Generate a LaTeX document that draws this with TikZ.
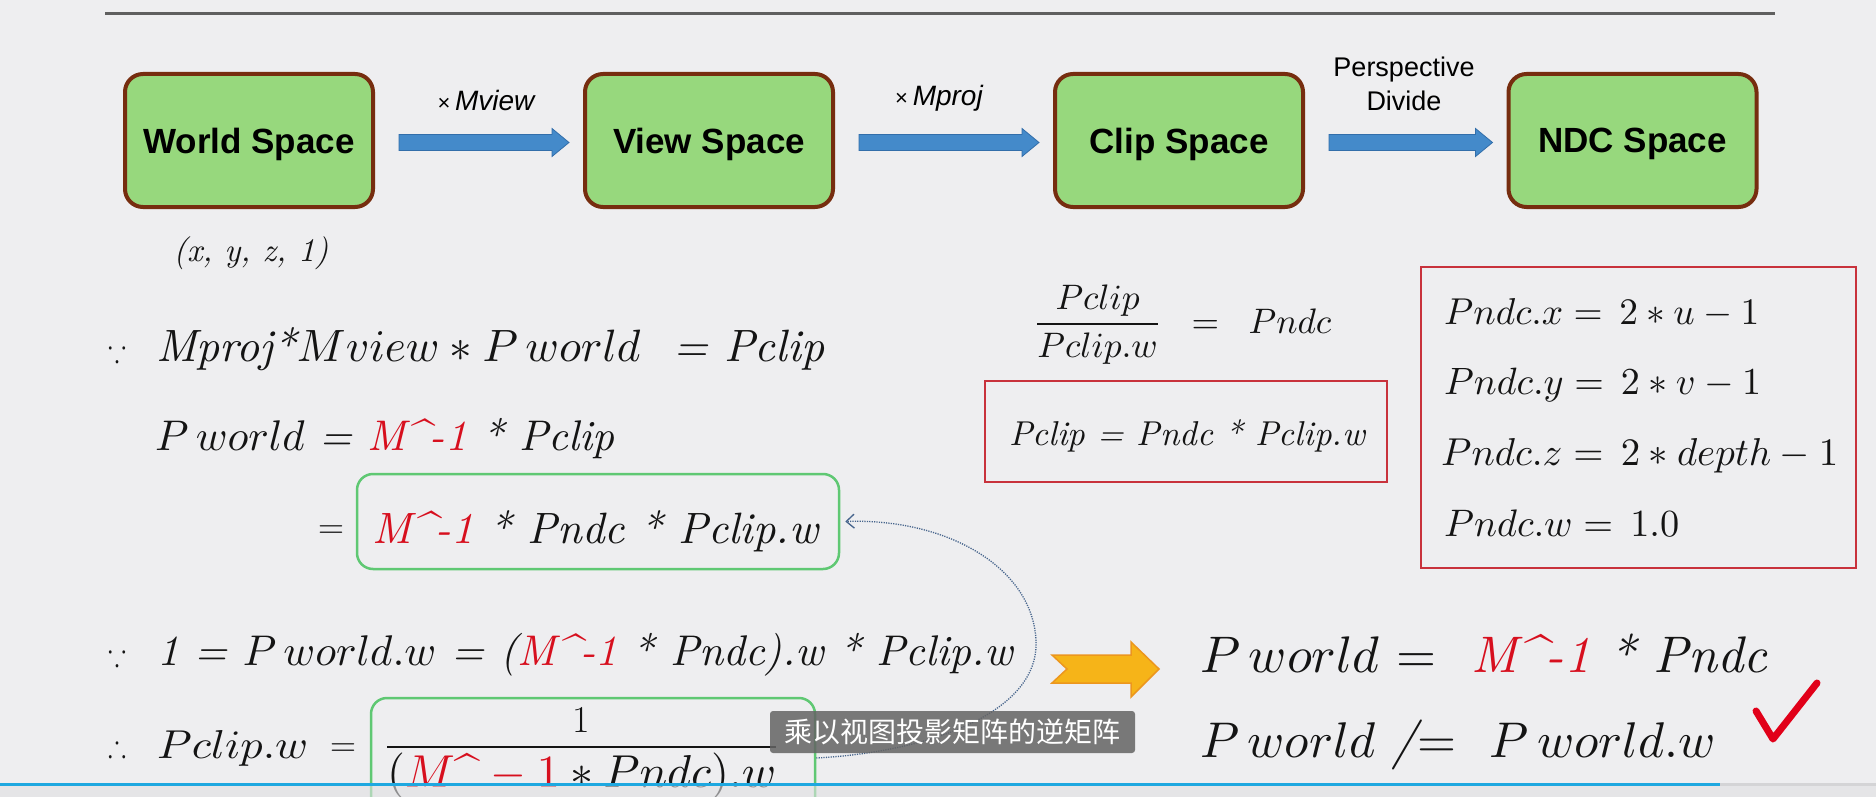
\documentclass[tikz,border=0pt]{standalone}
\usepackage{amsmath,amssymb}
\usepackage{graphicx}
\usepackage{fontspec}
\newfontfamily\headfont{Liberation Sans}
\newfontfamily\cjkfont{Noto Sans CJK SC}
\usetikzlibrary{calc,arrows.meta}

\definecolor{bg}{RGB}{238,238,240}
\definecolor{rulegray}{RGB}{95,95,95}
\definecolor{boxgreen}{RGB}{151,216,125}
\definecolor{boxbrown}{RGB}{118,45,15}
\definecolor{flowblue}{RGB}{68,138,202}
\definecolor{flowblueedge}{RGB}{50,110,170}
\definecolor{mred}{RGB}{215,15,30}
\definecolor{framered}{RGB}{200,50,60}
\definecolor{framegreen}{RGB}{95,200,115}
\definecolor{curveblue}{RGB}{70,100,140}
\definecolor{orangefill}{RGB}{246,180,24}
\definecolor{orangeedge}{RGB}{236,150,30}
\definecolor{barblue}{RGB}{30,168,224}
\definecolor{bargray}{RGB}{212,212,214}
\definecolor{stripgray}{RGB}{224,224,226}
\definecolor{ink}{RGB}{20,20,20}
\definecolor{checkred}{RGB}{225,0,25}
\definecolor{subgray}{RGB}{100,100,100}

% scale a piece of text to a given width (in pt)
\newcommand\fitw[2]{\resizebox{#1pt}{!}{#2}}
% the red inverse-matrix term
\newcommand\minv{\textcolor{mred}{M\textasciicircum-1}}

% block arrow between two stage boxes
\newcommand\flowarrow[2]{%
  \path ($(#1.east)+(24,2)$) coordinate (fa) ($(#2.west)+(-14,2)$) coordinate (fb);
  \filldraw[flow] ($(fa)+(0,-8)$) -- ($(fb)+(-17,-8)$) -- ($(fb)+(-17,-14)$) -- (fb)
    -- ($(fb)+(-17,14)$) -- ($(fb)+(-17,8)$) -- ($(fa)+(0,8)$) -- cycle;}

\begin{document}
\begin{tikzpicture}[x=1pt,y=-1pt,
  spacebox/.style={rounded corners=18pt, fill=boxgreen, draw=boxbrown, line width=4pt,
    minimum width=248pt, minimum height=133pt, inner sep=0pt, text depth=0pt,
    font=\headfont\bfseries\fontsize{35}{42}\selectfont},
  flow/.style={fill=flowblue, draw=flowblueedge, line width=0.8pt},
  steplabel/.style={inner sep=0pt, font=\headfont\itshape\fontsize{28}{32}\selectfont},
  persp/.style={inner sep=0pt, align=center, font=\headfont\fontsize{27}{34}\selectfont},
  eq/.style={inner sep=0pt, anchor=base west, text=ink},
  redframe/.style={draw=framered, line width=2.5pt, inner sep=0pt},
  greenframe/.style={draw=framegreen, line width=2.5pt, rounded corners=16pt, inner sep=0pt},
  linkcurve/.style={draw=curveblue, line width=1.3pt, dash pattern=on 1.2pt off 1.2pt,
    -{Straight Barb[length=8pt,width=14pt]}},
  subtitle/.style={fill=subgray, fill opacity=0.85, text opacity=1, text=white,
    rounded corners=3pt, minimum width=365pt, minimum height=42pt, inner sep=0pt,
    font=\cjkfont\fontsize{28}{30}\selectfont}
]
\clip (0,0) rectangle (1876,797);
\fill[bg] (0,0) rectangle (1876,797);
\draw[rulegray, line width=3pt] (105,14) -- (1775,14);

% pipeline of spaces
\node[spacebox] (world) at (249,140.5) {World Space};
\node[spacebox] (view)  at (709,140.5) {View Space};
\node[spacebox] (clip)  at (1179,140.5) {Clip Space};
\node[spacebox] (ndc)   at (1632.5,140.5) {NDC Space};
\flowarrow{world}{view}
\flowarrow{view}{clip}
\flowarrow{clip}{ndc}
\node[steplabel] (lblview) at (486,100) {{\fontsize{22}{24}\selectfont\upshape×}\,Mview};
\node[steplabel] (lblproj) at (939,98) {{\fontsize{22}{24}\selectfont\upshape×}\,Mproj};
\node[persp] (lblpersp) at (1404,84) {Perspective\\Divide};
\node[inner sep=0pt, text=ink] (homog) at (251,253) {\fitw{155}{\itshape (x, y, z, 1)}};

% derivation on the left
\node[eq] (since1) at (108,361) {\resizebox{18pt}{22pt}{$\because$}};
\node[eq] (l1) at (156,361) {\fitw{668}{\itshape Mproj*$Mview\ast P\,world$\ \ = Pclip}};
\node[eq] (l2) at (155,450) {\fitw{459}{$P\,world$ \itshape = \minv{} * Pclip}};
\node[greenframe, minimum width=482pt, minimum height=95pt] (g1) at (598,521.5) {};
\node[inner sep=0pt, text=ink, font=\fontsize{36}{38}\selectfont] (eq3) at (331,532) {=};
\node[eq] (l3) at (372,543) {\fitw{446}{\itshape \minv{} * Pndc * Pclip.w}};
\node[eq] (since2) at (108,665) {\resizebox{18pt}{22pt}{$\because$}};
\node[eq] (l4) at (157,665) {\fitw{856}{\itshape 1 = $P\,world.w$ = (\minv{} * Pndc).w * Pclip.w}};
\node[eq] (hence) at (108,756) {\resizebox{18pt}{22pt}{$\therefore$}};
\node[eq] (l5) at (157,758) {\resizebox{151pt}{28pt}{$Pclip.w$}};
\node[inner sep=0pt, text=ink, font=\fontsize{36}{38}\selectfont] (eq5) at (343,750) {=};
\node[greenframe, minimum width=444pt, minimum height=124pt] (g2) at (593,760) {};
\node[inner sep=0pt, anchor=base, text=ink, font=\fontsize{38}{40}\selectfont] (num) at (581,732) {1};
\node[eq] (den) at (387,787) {\fitw{389}{$(\textcolor{mred}{M\mbox{\textasciicircum}-1}\ast Pndc).w$}};
\draw[ink, line width=2.5pt] ($(den.north west)+(0,-5)$) -- ($(den.north east)+(0,-5)$);

% perspective divide relations on the right
\node[eq] (ratio) at (1033,333) {\fitw{298}{$\dfrac{Pclip}{Pclip.w}\;\;=\;\;Pndc$}};
\node[redframe, minimum width=402pt, minimum height=101pt] (pclipbox) at (1186,431.5) {};
\node[eq] (pcliptext) at (1009,445) {\fitw{356}{\itshape Pclip = Pndc * Pclip.w}};
\node[redframe, minimum width=435pt, minimum height=301pt] (ndcbox) at (1638.5,417.5) {};
\node[eq] (nx) at (1444,324) {\fitw{315}{$Pndc.x=\,2\ast u-1$}};
\node[eq] (ny) at (1444,394) {\fitw{317}{$Pndc.y=\,2\ast v-1$}};
\node[eq] (nz) at (1441,465) {\fitw{397}{$Pndc.z=\,2\ast depth-1$}};
\node[eq] (nw) at (1444,536) {\fitw{235}{$Pndc.w=\,1.0$}};

% result
\filldraw[fill=orangefill, draw=orangeedge, line width=1.5pt]
  (1052,655) -- (1131,655) -- (1131,642) -- (1159,669) -- (1131,697) -- (1131,683)
  -- (1052,683) -- (1067,669) -- cycle;
\node[eq] (r1) at (1200,672) {\fitw{567}{$P\,world$ =\ \ \itshape\minv{} * Pndc}};
\node[eq] (r2) at (1200,757) {\fitw{516}{$P\,world$ \itshape/\upshape=\ \ $P\,world.w$}};
\draw[checkred, line width=7pt, line cap=round, line join=round]
  (1756,711) -- (1773,739) -- (1817,683);

% dotted link between the two boxed terms
\draw[linkcurve] ($(g2.east)+(0,-2)$) .. controls (930,752) and (1040,712) .. (1036,640)
  .. controls (1032,566) and (945,518) .. ($(g1.east)+(5,0)$);

% caption overlay and player bar
\node[subtitle] (sub) at (952.5,732) {乘以视图投影矩阵的逆矩阵};
\fill[stripgray, opacity=0.6] (0,785.5) rectangle (1876,797);
\fill[barblue] (0,782.5) rectangle (1720,785.5);
\fill[bargray] (1720,782.5) rectangle (1876,785.5);
\end{tikzpicture}
\end{document}
